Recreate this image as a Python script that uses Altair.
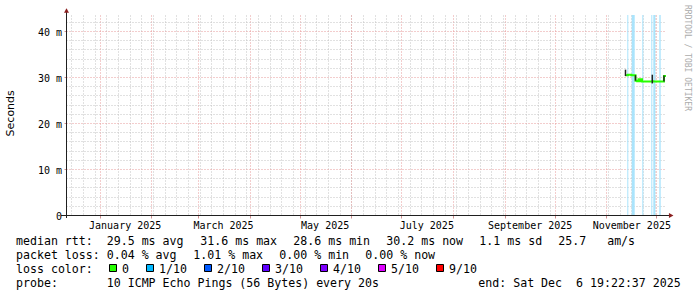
import altair as alt
import pandas as pd

# ---------------- data ----------------
med_time = ["2025-11-12T12:00:00Z", "2025-11-14T00:00:00Z", "2025-11-16T00:00:00Z",
            "2025-11-18T12:00:00Z", "2025-11-19T12:00:00Z", "2025-11-20T07:00:00Z",
            "2025-11-20T22:00:00Z", "2025-11-21T19:00:00Z", "2025-11-22T10:00:00Z",
            "2025-11-24T00:00:00Z", "2025-11-26T00:00:00Z", "2025-11-28T14:00:00Z",
            "2025-11-29T04:00:00Z", "2025-12-01T00:00:00Z", "2025-12-03T00:00:00Z",
            "2025-12-05T14:00:00Z", "2025-12-06T19:00:00Z"]
med_val = [30.4, 30.5, 30.4, 29.2, 29.1, 29.5, 29.1, 29.5, 29.0, 29.0, 29.0, 29.1,
           29.0, 29.0, 29.0, 30.2, 30.2]

smoke_time = ["2025-11-12T12:00:00Z", "2025-11-18T12:00:00Z", "2025-11-28T14:00:00Z",
              "2025-12-05T14:00:00Z"]
smoke_lo = [30.2, 29.2, 28.6, 29.0]
smoke_hi = [31.6, 30.4, 30.5, 30.3]

loss_start = ["2025-11-13T14:00:00Z", "2025-11-16T05:30:00Z", "2025-11-22T14:00:00Z",
              "2025-11-27T23:40:00Z", "2025-11-29T04:30:00Z", "2025-12-02T19:00:00Z"]
loss_end = ["2025-11-14T04:30:00Z", "2025-11-18T00:40:00Z", "2025-11-23T04:30:00Z",
            "2025-11-28T14:00:00Z", "2025-11-30T09:20:00Z", "2025-12-03T15:00:00Z"]

y_label_values = [0, 10, 20, 30, 40]
y_major_grid = [10, 20, 30, 40]
y_minor_grid = [2, 4, 6, 8, 12, 14, 16, 18, 22, 24, 26, 28, 32, 34, 36, 38, 42]
x_label_months = [1, 3, 5, 7, 9, 11]

legend_labels = ["0", "1/10", "2/10", "3/10", "4/10", "5/10", "9/10"]
legend_colors = ["#26ff00", "#00b8ff", "#0059ff", "#5e00ff", "#7e00ff", "#dd00ff", "#ff0000"]

line1_items = ["median rtt:  29.5 ms avg", "31.6 ms max", "28.6 ms min", "30.2 ms now",
               "1.1 ms sd", "25.7   am/s"]
line2_items = ["packet loss: 0.04 % avg", "1.01 % max", "0.00 % min", "0.00 % now"]
line3_head = "loss color:"
line4_items = ["probe:       10 ICMP Echo Pings (56 Bytes) every 20s",
               "end: Sat Dec  6 19:22:37 2025"]

# ---------------- layout constants ----------------
W, H = 600, 200
OX, OY = 66, 15
MONO = "DejaVu Sans Mono"
SANS = "DejaVu Sans"
GRID_MINOR = "#c2c2c2"
GRID_MAJOR = "#e69a9a"

med_df = pd.DataFrame({"t": med_time, "v": med_val})
smoke_df = pd.DataFrame({"t": smoke_time, "lo": smoke_lo, "hi": smoke_hi})
loss_df = pd.DataFrame({"s": loss_start, "e": loss_end})
one = pd.DataFrame({"a": [0]})

t0 = alt.DateTime(year=2024, month=12, date=11, hours=19, minutes=22, seconds=37, utc=True)
t1 = alt.DateTime(year=2025, month=12, date=6, hours=19, minutes=22, seconds=37, utc=True)
xscale = alt.Scale(type="utc", domain=[t0, t1], nice=False)
yscale = alt.Scale(domain=[0, 200 / 4.6], nice=False, zero=True)

week_axis = alt.Axis(orient="bottom", grid=True, gridColor=GRID_MINOR, gridDash=[1, 2],
                     gridWidth=1, tickCount={"interval": "week", "step": 1},
                     labels=False, ticks=False, domain=False, title=None)
month_axis = alt.Axis(orient="bottom", grid=True, gridColor=GRID_MAJOR, gridDash=[1, 2],
                      gridWidth=1, tickCount={"interval": "month", "step": 1},
                      labels=False, ticks=True, tickSize=3, tickColor="#d09090",
                      domain=False, title=None)
ymin_axis = alt.Axis(orient="left", grid=True, gridColor=GRID_MINOR, gridDash=[1, 2],
                     gridWidth=1, values=y_minor_grid, labels=False, ticks=False,
                     domain=False, title=None)
ymaj_axis = alt.Axis(orient="left", grid=True, gridColor=GRID_MAJOR, gridDash=[1, 2],
                     gridWidth=1, values=y_major_grid, labels=False, ticks=True,
                     tickSize=2, tickColor="#d09090", domain=False, title=None)
xlab_axis = alt.Axis(orient="bottom", grid=False, ticks=False, tickSize=0, domain=False,
                     values=[alt.DateTime(year=2025, month=m, date=16, utc=True)
                             for m in x_label_months],
                     labelExpr="utcFormat(datum.value, '%B %Y')",
                     labelFont=MONO, labelFontSize=10, labelColor="#000000",
                     labelPadding=13, labelBaseline="alphabetic", labelFlush=False,
                     labelOverlap=False, labelAngle=0, title=None)
ylab_axis = alt.Axis(orient="left", grid=False, ticks=False, tickSize=0, domain=False,
                     values=y_label_values,
                     labelExpr="datum.value == 0 ? '0\u00a0\u00a0' : datum.value + '\u00a0m'",
                     labelFont=MONO, labelFontSize=10, labelColor="#000000",
                     labelPadding=4.5, labelBaseline="alphabetic", labelOffset=4.5,
                     labelAlign="right", title=None)

grid_a = alt.Chart(med_df).mark_line(opacity=0).encode(
    x=alt.X("t:T", scale=xscale, axis=week_axis),
    y=alt.Y("v:Q", scale=yscale, axis=ymin_axis))
grid_b = alt.Chart(med_df).mark_line(opacity=0).encode(
    x=alt.X("t:T", scale=xscale, axis=month_axis),
    y=alt.Y("v:Q", scale=yscale, axis=ymaj_axis))

bands = alt.Chart(loss_df).mark_rect(color="#aae4fc").encode(
    x=alt.X("s:T", scale=xscale, axis=None), x2="e:T")

median = alt.Chart(med_df).mark_line(interpolate="step-after", color="#26ff00",
                                     strokeWidth=2).encode(
    x=alt.X("t:T", scale=xscale, axis=xlab_axis),
    y=alt.Y("v:Q", scale=yscale, axis=ylab_axis))

smoke = alt.Chart(smoke_df).mark_rule(color="#222222", strokeWidth=1.5).encode(
    x=alt.X("t:T", scale=xscale, axis=None),
    y=alt.Y("lo:Q", scale=yscale, axis=None), y2="hi:Q")

# axis lines and arrows
deco = [
    alt.Chart(one).mark_rule(color="#1f1f1f", strokeWidth=1).encode(
        x=alt.value(-5), x2=alt.value(W + 4), y=alt.value(H + 0.5)),
    alt.Chart(one).mark_rule(color="#1f1f1f", strokeWidth=1).encode(
        x=alt.value(0.5), y=alt.value(-3), y2=alt.value(H + 3)),
    alt.Chart(one).mark_point(shape="M-1,0.9L0,-0.9L1,0.9Z", filled=True, opacity=1,
                              color="#8a1f1f", size=25).encode(
        x=alt.value(0.5), y=alt.value(-4.5)),
    alt.Chart(one).mark_point(shape="M-0.9,-1L0.9,0L-0.9,1Z", filled=True, opacity=1,
                              color="#8a1f1f", size=25).encode(
        x=alt.value(W + 5.2), y=alt.value(H + 0.5)),
]


def nb(s):
    return s.replace(" ", "\u00a0")


def txt(s, x_abs, y_abs, size=11.6, font=MONO, color="#000000", **kw):
    return alt.Chart(one).mark_text(text=nb(s), font=font, fontSize=size, color=color,
                                    align=kw.pop("align", "left"),
                                    baseline=kw.pop("baseline", "alphabetic"),
                                    **kw).encode(
        x=alt.value(x_abs - OX), y=alt.value(y_abs - OY))


texts = []
# y title and watermark
texts.append(txt("Seconds", 14.3, 113.3, size=11, font=SANS, color="#000000",
                 align="center", angle=270))
texts.append(txt("RRDTOOL / TOBI OETIKER", 687.3, 5, size=8, color="#ababab",
                 baseline="middle", angle=90))

# legend lines
line1_x = [16, 200.3, 293.3, 386.3, 479.3, 558.3]
for s, x in zip(line1_items, line1_x):
    texts.append(txt(s, x, 245.3))
line2_x = [16, 193.3, 279.3, 365.3]
for s, x in zip(line2_items, line2_x):
    texts.append(txt(s, x, 259.3))
texts.append(txt(line3_head, 16, 273.3))
box_x = [109, 146, 204, 262, 320, 378, 436]
boxes = []
for lab, col, bx in zip(legend_labels, legend_colors, box_x):
    boxes.append(alt.Chart(one).mark_rect(fill=col, stroke="#000000", strokeWidth=1).encode(
        x=alt.value(bx + 0.5 - OX), x2=alt.value(bx + 7.5 - OX),
        y=alt.value(264.5 - OY), y2=alt.value(271.5 - OY)))
    texts.append(txt(lab, bx + 13, 273.3))
line4_x = [16, 478.3]
for s, x in zip(line4_items, line4_x):
    texts.append(txt(s, x, 287.3))

chart = alt.layer(grid_a, grid_b, bands, median, smoke, *deco, *boxes, *texts).resolve_scale(
    x="shared", y="shared").resolve_axis(x="independent", y="independent").properties(
    width=W, height=H,
    autosize=alt.AutoSizeParams(type="none"),
    padding={"left": OX, "top": OY, "right": 697 - OX - W, "bottom": 297 - OY - H},
    background="#ffffff",
).configure_view(stroke=None)

chart.save("out.html", embed_options={"renderer": "svg", "actions": False})
